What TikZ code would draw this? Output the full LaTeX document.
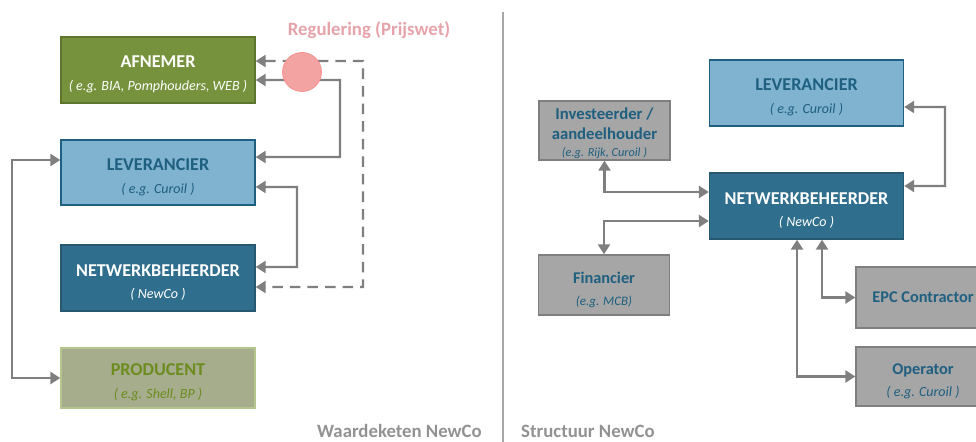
\documentclass[tikz,border=0pt]{standalone}
\usepackage{fontspec}
\setmainfont{Carlito}
\usetikzlibrary{arrows.meta}

\definecolor{afngreen}{HTML}{76923C}
\definecolor{levblue}{HTML}{7FB3D0}
\definecolor{darkblue}{HTML}{1F5F80}
\definecolor{netblue}{HTML}{2F6E8D}
\definecolor{prodfill}{HTML}{A5AD8D}
\definecolor{prodtext}{HTML}{6C8C1E}
\definecolor{greybox}{HTML}{A6A6A6}
\definecolor{linkgrey}{HTML}{7F7F7F}
\definecolor{regpink}{HTML}{E6A3AA}
\definecolor{circpink}{HTML}{F4A3A3}

\tikzset{
  box/.style={draw, rectangle, inner sep=0pt, align=center, line width=0.8pt,
    minimum width=3.88cm, minimum height=1.32cm, font=\fontsize{10.3}{12}\selectfont\bfseries},
  smallbox/.style={box, minimum width=2.62cm, minimum height=1.2cm,
    fill=greybox, draw=linkgrey, text=darkblue, font=\fontsize{9.3}{11.5}\selectfont\bfseries},
  link/.style={draw=linkgrey, line width=1.4pt,
    {Triangle[length=0.2cm,width=0.24cm]}-{Triangle[length=0.2cm,width=0.24cm]}},
  caption/.style={text=linkgrey!85, font=\fontsize{10.7}{12}\selectfont\bfseries}
}
\newcommand{\ttl}[1]{\rule{0pt}{12pt}#1}
\newcommand{\subtxt}[1]{{\fontsize{8}{9}\selectfont\mdseries\itshape #1}}

\begin{document}
\begin{tikzpicture}[x=0.02cm,y=-0.02cm]
\useasboundingbox (0,0) rectangle (976,442);

% Waardeketen
\node[box, fill=afngreen, draw=afngreen!80!black, text=white] (afn) at (158,70)
  {\ttl{AFNEMER}\\[1pt]\subtxt{( e.g. BIA, Pomphouders, WEB )}};
\node[box, fill=levblue, draw=darkblue, text=darkblue, minimum height=1.3cm] (lev) at (158,172.5)
  {\ttl{LEVERANCIER}\\[1pt]\subtxt{( e.g. Curoil )}};
\node[box, fill=netblue, draw=netblue!80!black, text=white] (netw) at (158,278)
  {\ttl{NETWERKBEHEERDER}\\[1pt]\subtxt{( NewCo )}};
\node[box, fill=prodfill, draw=prodtext!50!white, text=prodtext, minimum height=1.2cm] (prod) at (158,378)
  {\ttl{PRODUCENT}\\[1pt]\subtxt{( e.g. Shell, BP )}};

\draw[link, dashed, dash pattern=on 6pt off 4pt] ([yshift=0.18cm]afn.east) -| (363,287) -- ([yshift=-0.18cm]netw.east);
\draw[link] ([yshift=-0.2cm]afn.east) -| (340,157) -- ([yshift=0.31cm]lev.east);
\draw[link] ([yshift=-0.29cm]lev.east) -| (297,267) -- ([yshift=0.22cm]netw.east);
\draw[link] ([yshift=0.25cm]lev.west) -| (12,378) -- (prod.west);

\node[circle, fill=circpink, draw=circpink!85!red, minimum size=0.78cm, inner sep=0pt] (reg) at (302,72) {};
\node[caption, text=regpink] (regtxt) at (369,30) {Regulering (Prijswet)};

\draw[draw=greybox, line width=1.2pt] (503,12) -- (503,442);
\node[caption, anchor=base east] (wk) at (488,437) {Waardeketen NewCo};
\node[caption, anchor=base west] (st) at (515,437) {Structuur NewCo};

% Structuur
\node[box, fill=levblue, draw=darkblue, text=darkblue] (lev2) at (806.5,93)
  {\ttl{LEVERANCIER}\\[1pt]\subtxt{( e.g. Curoil )}};
\node[box, fill=netblue, draw=netblue!80!black, text=white] (netw2) at (806.5,206)
  {\ttl{NETWERKBEHEERDER}\\[1pt]\subtxt{( NewCo )}};
\node[smallbox, minimum height=1.18cm, font=\fontsize{9.5}{11}\selectfont\bfseries] (inv) at (604.5,130.5)
  {\rule{0pt}{10pt}Investeerder /\\aandeelhouder\\[-1pt]\subtxt{\fontsize{7}{8}\selectfont(e.g. Rijk, Curoil )}};
\node[smallbox] (fin) at (604,285)
  {\ttl{Financier}\\[1pt]\subtxt{\fontsize{7.4}{9}\selectfont(e.g. MCB)}};
\node[smallbox, minimum width=2.68cm, minimum height=1.22cm] (epc) at (923,297.5)
  {EPC Contractor};
\node[smallbox, minimum width=2.68cm, minimum height=1.18cm] (op) at (923,376.5)
  {\ttl{Operator}\\[1pt]\subtxt{( e.g. Curoil )}};

\draw[link] (inv.south) |- ([yshift=0.28cm]netw2.west);
\draw[link] (fin.north) |- ([yshift=-0.3cm]netw2.west);
\draw[link] ([yshift=-0.28cm]lev2.east) -| (945,186) -- ([yshift=0.4cm]netw2.east);
\draw[link] ([xshift=-0.19cm]netw2.south) |- (op.west);
\draw[link] ([xshift=0.31cm]netw2.south) |- (epc.west);
\end{tikzpicture}
\end{document}
